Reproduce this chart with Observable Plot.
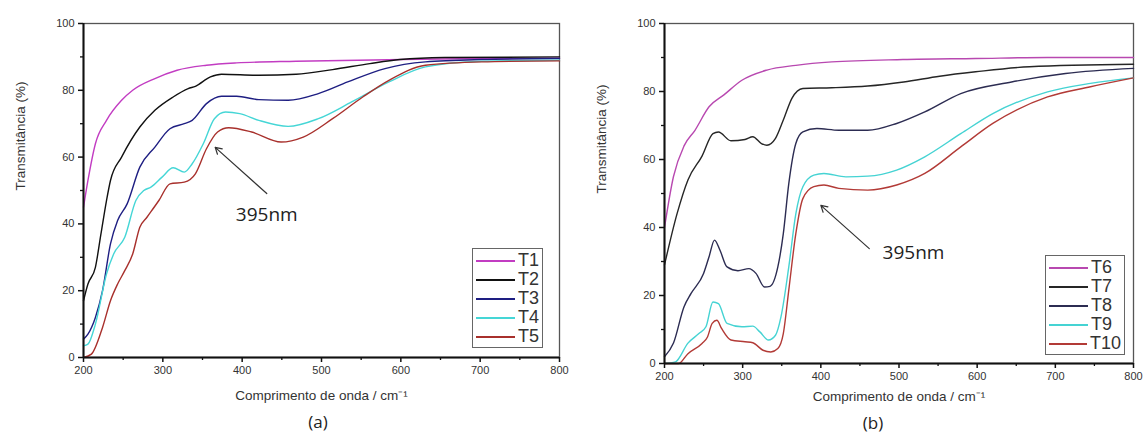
<!DOCTYPE html>
<html><head><meta charset="utf-8">
<script src="https://cdn.jsdelivr.net/npm/d3@7"></script>
<script src="https://cdn.jsdelivr.net/npm/@observablehq/plot@0.6"></script>
<style>
body{margin:0;background:#fff;width:1143px;height:434px;position:relative;overflow:hidden;font-family:"Liberation Sans",Arial,sans-serif}
.panel{position:absolute;top:0}
.cap{position:absolute;font-family:"Open Sans",sans-serif;font-size:17px;color:#222;transform:translateX(-50%);line-height:1}
.legend{position:absolute;border:1px solid #666;background:#fff;box-sizing:border-box;padding:2px 3px}
.legend .row{display:flex;align-items:center;height:19px;font-size:18px;color:#333;font-family:"Liberation Sans",Arial,sans-serif}
.legend .sw{width:39px;height:2px;margin-right:3px}
</style></head>
<body>
<div id="a" class="panel" style="left:0"></div>
<div id="b" class="panel" style="left:580px"></div>
<div class="cap" style="left:318px;top:413px">(a)</div>
<div class="cap" style="left:873px;top:414px">(b)</div>
<div id="legA" class="legend" style="left:472px;top:248px;width:71px;height:100px"></div>
<div id="legB" class="legend" style="left:1045px;top:255px;width:80px;height:100px"></div>
<script>
// ---- Panel (a) ----
const namesA = ["T1","T2","T3","T4","T5"];
const colorsA = ["#c23cc2","#111111","#1e1e82","#45d6d6","#a8302c"];
const t1x = [200,205.6,215,229,248,262,290,318,355,393,468,600,700,800];
const t1y = [45,53,64,71,77,80,83.5,86,87.5,88.2,88.7,89.2,89.5,89.6];
const t2x = [200,205.6,215,222,229,234,248,271,290,313,332,341,360,374,421,468,514,561,599,655,800];
const t2y = [17,22,27,37,47,53,60,69,74,78,80.5,81.2,84,84.8,84.5,84.8,86.2,88,89.2,89.8,90];
const t3x = [200,205.6,215,224,234,243,255,271,290,309,327,337,355,374,393,421,458,496,533,580,631,702,800];
const t3y = [5.5,7,12,20,34,41,46,57,63,68.5,70,71,76,78.2,78.2,77.2,77,79,82.5,86.5,88.5,89.2,89.5];
const t4x = [200,205.6,215,229,238,252,266,276,285,299,313,327,337,351,365,379,397,421,458,496,538,585,631,702,800];
const t4y = [3.5,4,10,25,31,36,47,50,51,54,56.8,55.5,58,64,71.5,73.5,73,71,69.2,71.5,76.5,82.5,87,88.7,89];
const t5x = [200,210,224,234,243,252,262,271,280,295,309,327,341,355,369,383,412,449,477,514,552,585,631,702,800];
const t5y = [0,1,9,17,22,26,31,39,42,47,52,52.5,55,62.5,67.5,68.8,67.5,64.5,66,71.5,78,83,87.5,88.5,88.8];
const annA = [{x1:431,y1:49.1,x2:366,y2:62.9,tx:392,ty:42.8,label:"395nm"}];

// ---- Panel (b) ----
const namesB = ["T6","T7","T8","T9","T10"];
const colorsB = ["#b848b0","#262626","#2c2c52","#45d3d3","#b23a36"];
const t6x = [200,211.5,225,239,257,276,299,331,368,414,505,598,690,800];
const t6y = [40,55,64,68.6,75.5,79,83.3,86.3,87.7,88.7,89.4,89.7,90,90];
const t7x = [200,216,230,248,262,269,285,303,313,324,331,342,352,363,377,414,460,506,552,598,667,800];
const t7y = [29,44,54,61,67.6,68.1,65.5,65.9,66.7,64.7,64.2,66.2,71.6,78,80.9,81.1,81.6,82.8,84.5,85.8,87.3,88];
const t8x = [200,211.5,225,234,250,257,264,271,280,294,308,317,328,335,345,352,359,368,377,395,423,460,497,533,579,644,713,800];
const t8y = [2,6,16.7,20.6,26.5,31.4,36.3,33.3,28.4,27.3,27.9,26.5,22.5,22.7,28.4,38.2,52.9,64.7,68.1,69.1,68.6,68.6,70.6,74,79.4,82.8,85.3,86.8];
const t9x = [200,214,230,244,253,262,269,280,299,313,322,333,342,349,359,368,377,391,404,432,460,497,533,579,620,690,745,800];
const t9y = [0,0.5,6,8.8,10.8,18.1,17.6,11.8,10.8,11,9.3,6.9,8.3,13.7,28.4,44,52,55.4,55.9,54.9,55.1,56.9,60.8,67.6,73.5,79.9,82.4,84];
const t10x = [200,218,230,248,255,261,267,273,285,303,313,326,336,345,352,359,368,377,391,404,423,460,497,533,579,620,690,745,800];
const t10y = [0,0,2.9,5.9,7.8,11.8,12.7,10.3,6.9,6.4,6.1,3.9,3.4,4.4,8.8,21.6,38.2,48.5,52,52.5,51.5,51,52.5,55.9,63.7,70.6,78.4,81.4,84];
const annB = [{x1:462,y1:33.8,x2:400,y2:46.5,tx:479,ty:32.6,label:"395nm"}];

// ---- Axes ----
const xMajor = [200,300,400,500,600,700,800];
const xMinor = [250,350,450,550,650,750];
const yMajor = [0,20,40,60,80,100];
const yMinor = [10,30,50,70,90];
const xTitle = "Comprimento de onda / cm\u207B\u00B9";
const yTitle = "Transmitância (%)";

function rows(names, xs, ys) {
  const out = [];
  names.forEach((n, i) => xs[i].forEach((x, j) => out.push({name: n, x, y: ys[i][j]})));
  return out;
}

function panel(names, colors, xs, ys, ann, w, ml, mr, mb, titleDy) {
  return Plot.plot({
    width: w, height: 434,
    marginLeft: ml, marginRight: mr, marginTop: 23, marginBottom: mb,
    x: {domain: [200, 800]},
    y: {domain: [0, 100]},
    color: {domain: names, range: colors},
    style: {fontFamily: "Liberation Sans, Arial, sans-serif", fontSize: "11px", color: "#333", background: "transparent"},
    marks: [
      Plot.frame({stroke: "#555", strokeWidth: 1.3}),
      Plot.line(rows(names, xs, ys), {x: "x", y: "y", z: "name", stroke: "name", curve: "monotone-x", strokeWidth: 1.4}),
      Plot.ruleX([200], {stroke: "#111", strokeWidth: 2}),
      Plot.ruleY([0], {stroke: "#111", strokeWidth: 2}),
      Plot.axisX(xMajor, {tickSize: 5, tickPadding: 4, label: null, stroke: "#111", strokeWidth: 1.5, fontSize: 11, tickFormat: d => d, style: {letterSpacing: "1.5px"}}),
      Plot.axisX(xMinor, {tickSize: 3, label: null, tickFormat: () => "", stroke: "#111", strokeWidth: 1.3}),
      Plot.axisY(yMajor, {tickSize: 5, tickPadding: 4, label: null, stroke: "#111", strokeWidth: 1.5, fontSize: 11}),
      Plot.axisY(yMinor, {tickSize: 3, label: null, tickFormat: () => "", stroke: "#111", strokeWidth: 1.3}),
      Plot.text([xTitle], {frameAnchor: "bottom", dy: titleDy, fontSize: 13.5, fill: "#333"}),
      Plot.text([yTitle], {frameAnchor: "left", dx: -63, rotate: -90, fontSize: 13.5, fill: "#333"}),
      Plot.arrow(ann, {x1: "x1", y1: "y1", x2: "x2", y2: "y2", stroke: "#333", strokeWidth: 1.2, headLength: 9}),
      Plot.text(ann, {x: "tx", y: "ty", text: "label", textAnchor: "start", fontSize: 19, fontFamily: "Open Sans, sans-serif", fill: "#222"})
    ]
  });
}

document.getElementById("a").append(panel(namesA, colorsA, [t1x,t2x,t3x,t4x,t5x], [t1y,t2y,t3y,t4y,t5y], annA, 580, 83, 21, 77, 42));
document.getElementById("b").append(panel(namesB, colorsB, [t6x,t7x,t8x,t9x,t10x], [t6y,t7y,t8y,t9y,t10y], annB, 563, 84, 10, 71, 37));

function legend(el, names, colors) {
  names.forEach((n, i) => {
    const r = document.createElement("div"); r.className = "row";
    const s = document.createElement("div"); s.className = "sw"; s.style.background = colors[i];
    const t = document.createElement("span"); t.textContent = n;
    r.append(s, t); el.append(r);
  });
}
legend(document.getElementById("legA"), namesA, colorsA);
legend(document.getElementById("legB"), namesB, colorsB);
</script>
</body></html>
